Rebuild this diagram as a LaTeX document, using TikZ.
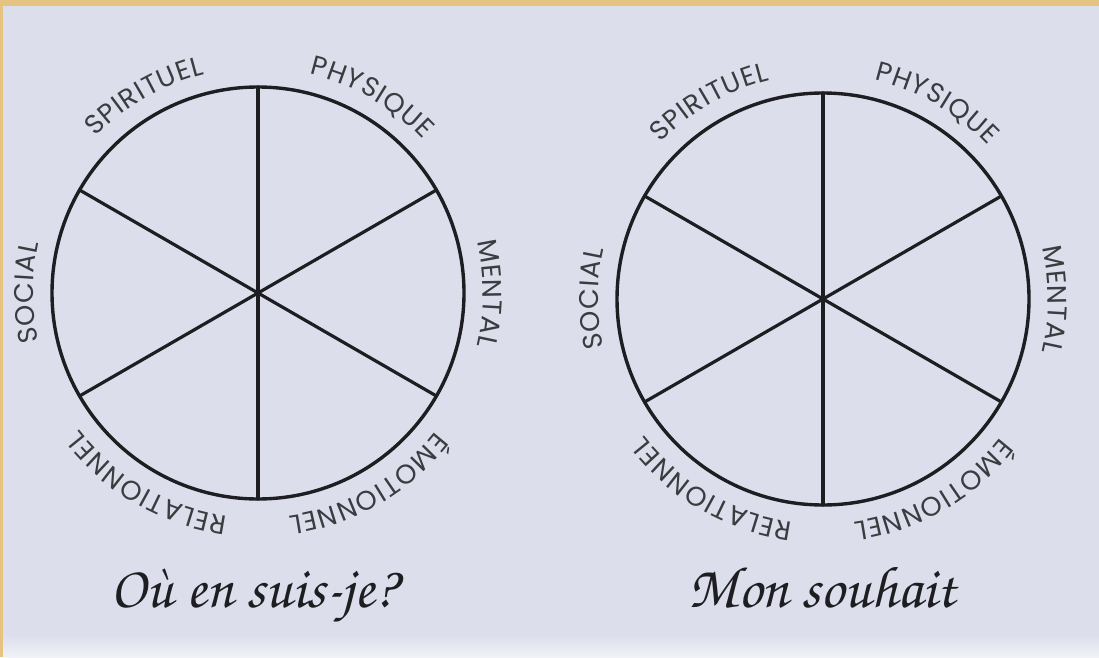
\documentclass[tikz,border=0pt]{standalone}
\usepackage[T1]{fontenc}
\usepackage{fontspec}
\usepackage{xcolor}
\usepackage{tikz}
\usetikzlibrary{calc}
\usetikzlibrary{decorations.text}
\newfontfamily\poppins{Poppins}
\newcommand{\lbl}{\poppins\fontsize{27}{27}\selectfont\kern1pt}
\newcommand{\hand}{\fontencoding{T1}\fontfamily{pzc}\fontseries{mb}\fontshape{it}\fontsize{59}{59}\selectfont}

\begin{document}
\begin{tikzpicture}[x=1pt,y=1pt]
  \definecolor{paper}{RGB}{220,223,235}
  \definecolor{gold}{RGB}{228,196,128}
  \definecolor{ink}{RGB}{30,30,34}
  \colorlet{paperlight}{paper!40!white}
  \colorlet{labelcol}{ink!85!paper}
  \tikzstyle{wheel}=[circle, draw=ink, line width=3.4, minimum size=412, inner sep=0, outer sep=0]
  \tikzstyle{spoke}=[ink, line width=3.2, line cap=round]
  \tikzstyle{caption}=[anchor=base, text=ink, font=\hand]

  % CONSTANTS
  \def\rlab{225}

  % Page
  \fill[gold] (0,0) rectangle (1099,657);
  \fill[paper] (3,0) rectangle (1099,651);
  \shade[top color=paper, bottom color=paperlight] (3,0) rectangle (1099,22);
  \useasboundingbox (0,0) rectangle (1099,657);

  % Wheels
  \node[wheel] (wL) at (258,364) {};
  \node[wheel] (wR) at (823,358) {};

  \foreach \w in {wL,wR}{
      \foreach \a in {30,90,...,330}
        \draw[spoke] (\w.center) -- (\w.\a);
      \foreach \a/\txt in {120/SPIRITUEL,60/PHYSIQUE,0/MENTAL,-60/ÉMOTIONNEL,-120/RELATIONNEL,180/SOCIAL}
        \path[decorate, decoration={text along path, text/.expanded={|\noexpand\lbl|\txt}, text align=center, text color=labelcol}]
          ([shift={(\a+30:\rlab)}]\w.center) arc[start angle=\a+30, end angle=\a-30, radius=\rlab];
    }

  % Captions
  \node[caption] (capL) at (254,50) {O\`u en suis-je?};
  \node[caption] (capR) at (822,50) {Mon souhait};

\end{tikzpicture}
\end{document}
